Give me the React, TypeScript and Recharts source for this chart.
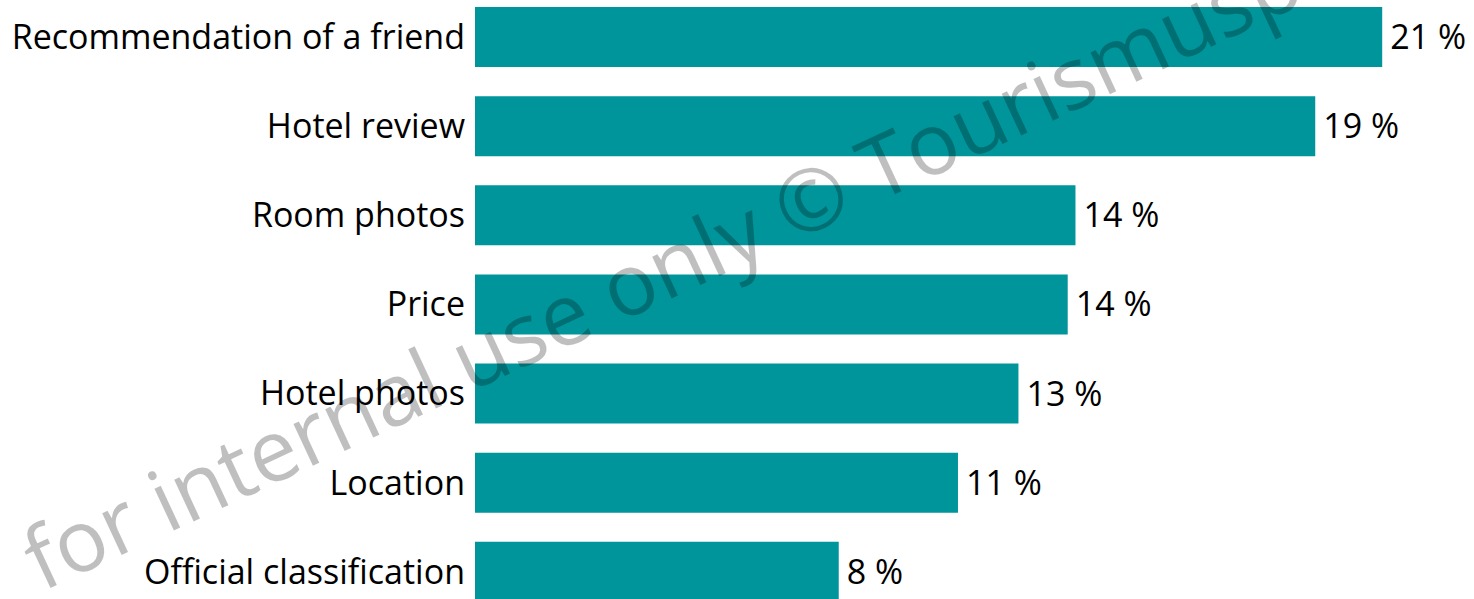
import React from "react";
import { BarChart, Bar, XAxis, YAxis, LabelList } from "recharts";

const categories = [
  "Recommendation of a friend",
  "Hotel review",
  "Room photos",
  "Price",
  "Hotel photos",
  "Location",
  "Official classification",
];
const shares = [21.0, 19.45, 13.9, 13.72, 12.58, 11.18, 8.42];
const watermark = "for internal use only © Tourismusp";

const data = categories.map((name, i) => ({ name, value: shares[i] }));

const FONT = "'Open Sans', sans-serif";
const BAR_COLOR = "#00959A";

const Tick = (props: any) => {
  const { x, y, payload } = props;
  return (
    <text x={x} y={y} dy="0.36em" textAnchor="end" fontFamily={FONT} fontSize={34} fill="#000">
      {payload.value}
    </text>
  );
};

export default function App() {
  return (
    <div style={{ position: "absolute", left: 0, top: 0, width: 1474, height: 599, overflow: "hidden", background: "#fff" }}>
      <div style={{ position: "absolute", left: 0, top: -8 }}>
        <BarChart
          width={1474}
          height={624}
          data={data}
          layout="vertical"
          margin={{ top: 0, right: 48.6, bottom: 0, left: 0 }}
        >
          <XAxis type="number" domain={[0, 22]} hide />
          <YAxis
            type="category"
            dataKey="name"
            width={475}
            axisLine={false}
            tickLine={false}
            tickSize={0}
            tickMargin={10}
            tick={<Tick />}
            interval={0}
          />
          <Bar dataKey="value" fill={BAR_COLOR} barSize={60} isAnimationActive={false}>
            <LabelList
              dataKey="value"
              position="right"
              offset={8}
              formatter={(v: any) => `${Math.round(Number(v))} %`}
              style={{ fontFamily: FONT, fontSize: 34, fill: "#000" }}
            />
          </Bar>
        </BarChart>
      </div>
      <svg width={1474} height={599} style={{ position: "absolute", left: 0, top: 0, pointerEvents: "none" }}>
        <text
          x={42}
          y={592}
          transform="rotate(-25 42 592)"
          fontFamily={FONT}
          fontSize={86}
          fill="#000"
          fillOpacity={0.25}
        >
          {watermark}
        </text>
      </svg>
    </div>
  );
}
